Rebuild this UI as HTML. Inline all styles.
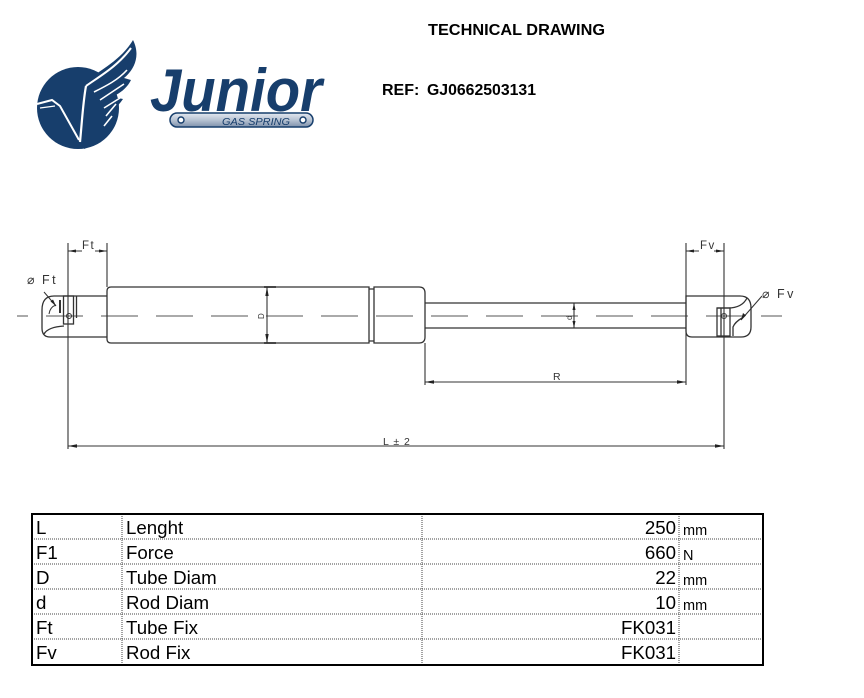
<!DOCTYPE html>
<html><head><meta charset="utf-8"><style>
html,body{margin:0;padding:0;background:#fff;}
svg{display:block;}
</style></head><body>
<svg width="864" height="698" viewBox="0 0 864 698" xmlns="http://www.w3.org/2000/svg">
<defs>
<linearGradient id="pill" x1="0" y1="0" x2="0" y2="1">
<stop offset="0" stop-color="#e4e9f0"/><stop offset="0.5" stop-color="#b7c3d3"/><stop offset="1" stop-color="#7f91ab"/>
</linearGradient>
</defs>
<rect width="864" height="698" fill="#fff"/>

<!-- Logo -->
<g>
<circle cx="78" cy="108" r="41" fill="#173e6c"/>
<path d="M80,86 C96,72 120,62 133,40 C141,56 134,70 124,78 L131,80 C126,90 119,93 113,97 L123,99 C117,108 111,111 105,113 L115,117 C109,124 105,127 100,129 L108,133 C100,141 93,145 84,149 Z" fill="#173e6c"/>
<path d="M86,86 C100,76 118,66 131,48" stroke="#fff" stroke-width="2" fill="none"/>
<path d="M94,92 C106,86 118,80 127,70 M100,100 L124,84 M104,108 L120,98 M106,116 L116,104 M104,126 L112,116" stroke="#fff" stroke-width="1.6" fill="none"/>
<path d="M86,86 C83,102 82,122 80,142" stroke="#fff" stroke-width="2.2" fill="none"/>
<path d="M37,104 L52,100 L60,106 L79,140" stroke="#fff" stroke-width="2" fill="none"/>
<path d="M40,108 L55,106" stroke="#fff" stroke-width="1.2" fill="none"/>
<text x="150" y="111" font-family="Liberation Sans, sans-serif" font-weight="bold" font-style="italic" font-size="60" fill="#173e6c" textLength="172" lengthAdjust="spacingAndGlyphs">Junior</text>
<rect x="170" y="113" width="143" height="14" rx="7" fill="url(#pill)" stroke="#173e6c" stroke-width="1.5"/>
<circle cx="181" cy="120" r="3" fill="#fff" stroke="#173e6c" stroke-width="1.4"/>
<circle cx="303" cy="120" r="3" fill="#fff" stroke="#173e6c" stroke-width="1.4"/>
<text x="222" y="125" font-family="Liberation Sans, sans-serif" font-style="italic" font-size="10.5" fill="#173e6c" textLength="68" lengthAdjust="spacingAndGlyphs">GAS SPRING</text>
</g>

<!-- Titles -->
<text x="428" y="35" font-family="Liberation Sans, sans-serif" font-weight="bold" font-size="16" fill="#000" textLength="177" lengthAdjust="spacingAndGlyphs">TECHNICAL DRAWING</text>
<text x="382" y="95" font-family="Liberation Sans, sans-serif" font-weight="bold" font-size="16" fill="#000">REF:</text>
<text x="427" y="95" font-family="Liberation Sans, sans-serif" font-weight="bold" font-size="16" fill="#000" textLength="109" lengthAdjust="spacingAndGlyphs">GJ0662503131</text>

<!-- Drawing -->
<g stroke="#333" stroke-width="1.3" fill="none">
<line x1="17" y1="316" x2="782" y2="316" stroke="#555" stroke-width="1" stroke-dasharray="37 18" stroke-dashoffset="26"/>
<path d="M111,287 H369 V343 H111 Q107,343 107,339 V291 Q107,287 111,287 Z"/>
<path d="M369,289 H374 M369,341 H374"/>
<path d="M374,287 H419 Q425,287 425,293 V337 Q425,343 419,343 H374 Z"/>
<path d="M425,303 H686 M425,328 H686"/>
<path d="M107,296 H54 Q42,296 42,310 V328 Q42,337 50,337 H107"/>
<path d="M44,334 Q48,327 64,326"/>
<rect x="63.5" y="296" width="10" height="28"/>
<path d="M76.5,296 V318"/>
<path d="M60,300 V313" stroke-width="2"/>
<circle cx="69" cy="316" r="2.5" stroke-width="1"/>
<path d="M686,296 H740 Q751,296 751,308 V327 Q751,337 741,337 H692 Q686,337 686,331 Z"/>
<path d="M747,298 Q742,308 728,308 H717"/>
<rect x="717" y="308" width="13" height="28"/>
<path d="M721,308 V336"/>
<path d="M733,336 V327 Q735,322 742,318"/>
<circle cx="724" cy="316" r="2.5" stroke-width="1"/>
<path d="M68,243 V449 M107,243 V287 M686,243 V385 M724,243 V449 M425,343 V385" stroke-width="1.1"/>
<path d="M68,446 H724" stroke-width="1.1"/>
<path d="M425,382 H686" stroke-width="1.1"/>
<path d="M68,251 H82 M95,251 H107" stroke-width="1.1"/>
<path d="M686,251 H699 M714,251 H724" stroke-width="1.1"/>
<path d="M267,287 V343" stroke-width="1.1"/>
<path d="M264,287 H276 M264,343 H276" stroke-width="1.8"/>
<path d="M574,303 V328" stroke-width="1.1"/>
<path d="M44,292 L56,306" stroke-width="1"/>
<path d="M49,314 Q50,307 56,305" stroke-width="1"/>
<path d="M762,296 L741,320" stroke-width="1"/>
</g>
<g fill="#222">
<polygon points="68,446 77,444.3 77,447.7"/>
<polygon points="724,446 715,444.3 715,447.7"/>
<polygon points="425,382 434,380.3 434,383.7"/>
<polygon points="686,382 677,380.3 677,383.7"/>
<polygon points="68,251 76,249.5 76,252.5"/>
<polygon points="107,251 99,249.5 99,252.5"/>
<polygon points="686,251 694,249.5 694,252.5"/>
<polygon points="724,251 716,249.5 716,252.5"/>
<polygon points="267,287 265.3,296 268.7,296"/>
<polygon points="267,343 265.3,334 268.7,334"/>
<polygon points="574,303 572.5,310 575.5,310"/>
<polygon points="574,328 572.5,321 575.5,321"/>
<polygon points="56,306 50.5,301.5 53,299.5"/>
<polygon points="741,320 743,313 746,315.5"/>
</g>
<g font-family="Liberation Sans, sans-serif" fill="#333" font-size="11.5">
<text x="82" y="249" letter-spacing="1.5">Ft</text>
<text x="700" y="249" letter-spacing="1.5">Fv</text>
<text x="27" y="284" font-size="12.5">⌀</text>
<text x="42" y="284" letter-spacing="2.5" font-size="12.5">Ft</text>
<text x="762" y="298" font-size="12.5">⌀</text>
<text x="777" y="298" letter-spacing="2.5" font-size="12.5">Fv</text>
<text x="553" y="380" font-size="10.5">R</text>
<text x="383" y="445" letter-spacing="1" font-size="10.5">L ± 2</text>
<text x="0" y="0" font-size="8" transform="translate(264,319) rotate(-90)">D</text>
<text x="0" y="0" font-size="8" transform="translate(572,320) rotate(-90)">d</text>
</g>

<!-- Table -->
<g stroke="#444" stroke-width="1" stroke-dasharray="1 1" fill="none">
<path d="M32,539 H763 M32,564 H763 M32,589 H763 M32,614 H763 M32,639 H763"/>
<path d="M122,514 V665 M422,514 V665 M679,514 V665"/>
</g>
<rect x="32" y="514" width="731" height="151" fill="none" stroke="#000" stroke-width="2"/>
<g font-family="Liberation Sans, sans-serif" font-size="18.7" fill="#000">
<text x="36" y="534">L</text>
<text x="36" y="559">F1</text>
<text x="36" y="584">D</text>
<text x="36" y="609">d</text>
<text x="36" y="634">Ft</text>
<text x="36" y="659">Fv</text>
<text x="126" y="534">Lenght</text>
<text x="126" y="559">Force</text>
<text x="126" y="584">Tube Diam</text>
<text x="126" y="609">Rod Diam</text>
<text x="126" y="634">Tube Fix</text>
<text x="126" y="659">Rod Fix</text>
<g text-anchor="end">
<text x="676" y="534">250</text>
<text x="676" y="559">660</text>
<text x="676" y="584">22</text>
<text x="676" y="609">10</text>
<text x="676" y="634">FK031</text>
<text x="676" y="659">FK031</text>
</g>
</g>
<g font-family="Liberation Sans, sans-serif" font-size="14.5" fill="#000">
<text x="683" y="535">mm</text>
<text x="683" y="560">N</text>
<text x="683" y="585">mm</text>
<text x="683" y="610">mm</text>
</g>
</svg>
</body></html>
